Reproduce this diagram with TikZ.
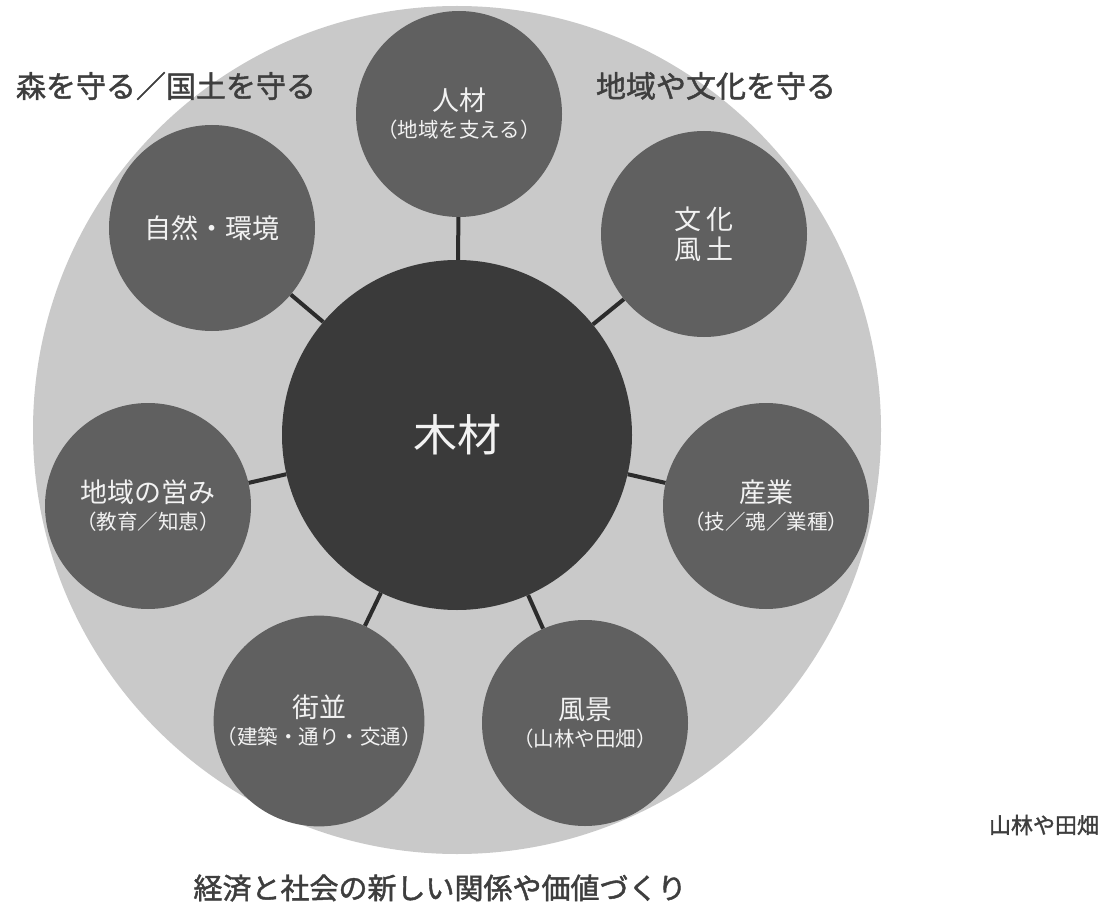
\documentclass[tikz,border=0pt]{standalone}
\usepackage{fontspec}
\newfontfamily\jp{Noto Sans CJK JP}
\newfontfamily\jpb{Noto Sans CJK JP}[FakeBold=1.5]
\newcommand\subt[1]{{\fontsize{20.5}{24}\selectfont #1}}
\definecolor{bgring}{HTML}{C9C9C9}
\definecolor{satfill}{HTML}{606060}
\definecolor{corefill}{HTML}{3A3A3A}
\definecolor{linecol}{HTML}{2C2C2C}
\definecolor{labcol}{HTML}{3E3E3E}
\definecolor{wtext}{HTML}{F2F2F2}
\begin{document}
\begin{tikzpicture}[x=1pt,y=-1pt,
  sat/.style={circle,fill=satfill,minimum size=206pt,inner sep=0pt,text=wtext,align=center,font=\jp\fontsize{27}{32}\selectfont},
  core/.style={circle,fill=corefill,minimum size=350pt,inner sep=0pt,text=wtext,font=\jp\fontsize{44}{50}\selectfont},
  conn/.style={draw=linecol,line width=4pt},
  outlab/.style={text=labcol,font=\jpb\fontsize{30}{34}\selectfont,inner sep=0pt}]
\useasboundingbox (0,0) rectangle (1108,909);
\fill[white] (0,0) rectangle (1108,909);
\node[circle,fill=bgring,minimum size=848pt,inner sep=0pt] (ring) at (457,430) {};
\node[core] (core) at (457,435) {木材};
\node[sat] (s1) at (459,114) {人材\\[-5pt]\subt{（地域を支える）}};
\node[sat] (s2) at (212,228) {自然・環境};
\node[sat] (s3) at (704,234) {文\,化\\[-2pt]風\,土};
\node[sat] (s4) at (148,506) {地域の営み\\[-5pt]\subt{（教育／知恵）}};
\node[sat] (s5) at (766,506) {産業\\[-5pt]\subt{（技／魂／業種）}};
\node[sat] (s6) at (319,721) {街並\\[-5pt]\subt{（建築・通り・交通）}};
\node[sat] (s7) at (585,723) {風景\\[-5pt]\subt{（山林や田畑）}};
\foreach \s in {s1,s2,s3,s4,s5,s6,s7} \draw[conn] (core) -- (\s);
\node[outlab] (l1) at (166,86) {森を守る／国土を守る};
\node[outlab] (l2) at (716,86) {地域や文化を守る};
\node[outlab,font=\jpb\fontsize{29}{34}\selectfont] (l3) at (440,888) {経済と社会の新しい関係や価値づくり};
\node[outlab,font=\jpb\fontsize{22}{26}\selectfont] (l4) at (1044,825) {山林や田畑};
\end{tikzpicture}
\end{document}
